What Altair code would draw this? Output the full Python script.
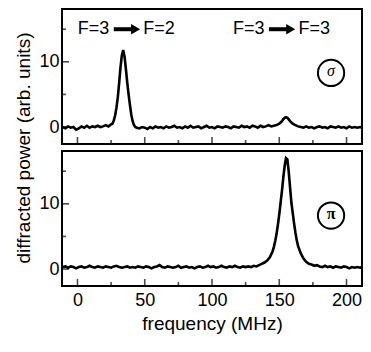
import altair as alt
import pandas as pd

# ---- data ----
top_freq = [-11, -9, -7, -5, -3, -1, 1, 3, 5, 7, 9, 11, 13, 15, 17, 19, 21, 23, 25,
            26, 27, 28, 29, 30, 31, 32, 33, 34, 35, 36, 37, 38, 39, 40, 41, 42, 43, 44,
            46, 48, 50, 52, 54, 56, 58, 60, 62, 64, 66, 68, 70, 72, 74, 76, 78, 80, 82, 84,
            86, 88, 90, 92, 94, 96, 98, 100, 102, 104, 106, 108, 110, 112, 114, 116, 118,
            120, 122, 124, 126, 128, 130, 132, 134, 136, 138, 140, 142, 144, 146,
            148, 150, 151, 152, 153, 154, 155, 156, 157, 158, 159, 160, 162, 164,
            166, 168, 170, 172, 174, 176, 178, 180, 182, 184, 186, 188, 190, 192, 194,
            196, 198, 200, 202, 204, 206, 208, 210, 211.5]
top_power = [0.0, -0.2, 0.1, -0.1, 0.0, -0.4, -0.2, 0.1, -0.1, 0.2, -0.1, 0.1, 0.0, 0.2, 0.0, 0.1, 0.3, 0.1, 0.4,
             0.5, 1.0, 1.8, 3.0, 4.6, 6.8, 9.2, 11.0, 11.8, 10.8, 8.9, 6.8, 5.0, 3.4, 1.9, 0.9, 0.3, 0.0, -0.1,
             -0.2, 0.0, -0.1, -0.3, 0.0, -0.2, 0.1, -0.1, 0.0, -0.2, 0.1, -0.1, 0.0, 0.2, -0.1, 0.0, -0.2, 0.1, -0.1, 0.2,
             -0.1, 0.0, 0.1, -0.2, 0.0, 0.2, -0.1, 0.0, -0.2, 0.1, 0.0, -0.1, 0.1, 0.0, -0.2, 0.1, 0.0,
             -0.1, 0.2, 0.0, 0.1, -0.1, 0.2, 0.1, -0.1, 0.2, 0.0, 0.1, 0.3, 0.1, 0.2,
             0.3, 0.5, 0.7, 0.9, 1.2, 1.4, 1.5, 1.4, 1.2, 0.9, 0.7, 0.5, 0.3, 0.1,
             0.0, -0.1, 0.1, -0.1, 0.0, -0.2, 0.0, 0.1, -0.1, 0.0, -0.2, 0.1, 0.0, -0.1, 0.1,
             -0.1, 0.0, -0.2, 0.1, -0.1, 0.0, -0.1, 0.0, -0.1]

bot_freq = [-11, -9, -7, -5, -3, -1, 1, 3, 5, 7, 9, 11, 13, 15, 17, 19, 21, 23, 25, 27, 29,
            31, 33, 35, 37, 39, 41, 43, 45, 47, 49, 51, 53, 55, 57, 59, 61, 63, 65, 67, 69,
            71, 73, 75, 77, 79, 81, 83, 85, 87, 89, 91, 93, 95, 97, 99, 101, 103, 105, 107,
            109, 111, 113, 115, 117, 119, 121, 123, 125, 127, 129,
            131, 133, 135, 137, 139, 141, 143, 145, 146, 147, 148, 149, 150, 151, 152, 153,
            154, 155, 156, 157, 158, 159, 160, 161, 162, 163, 164, 166, 168, 170, 172, 174,
            176, 178, 180, 182, 184, 186, 188, 190, 192, 194, 196, 198, 200, 202, 204, 206,
            208, 210, 211.5]
bot_power = [0.3, 0.4, 0.2, 0.4, 0.3, 0.1, 0.3, 0.4, 0.2, 0.3, 0.5, 0.3, 0.2, 0.4, 0.3, 0.2, 0.4, 0.3, 0.2, 0.4, 0.5,
             0.3, 0.2, 0.3, 0.4, 0.2, 0.3, 0.2, 0.4, 0.3, 0.2, 0.4, 0.3, 0.1, 0.3, 0.4, 0.6, 0.3, 0.2, 0.4, 0.3,
             0.2, 0.3, 0.5, 0.2, 0.3, 0.4, 0.2, 0.3, 0.1, 0.3, 0.4, 0.2, 0.3, 0.5, 0.3, 0.4, 0.2, 0.3, 0.5,
             0.3, 0.2, 0.4, 0.3, 0.5, 0.3, 0.2, 0.4, 0.3, 0.4, 0.3,
             0.5, 0.4, 0.6, 0.8, 1.0, 1.3, 1.8, 2.7, 3.4, 4.3, 5.4, 6.8, 8.4, 10.2, 12.0, 14.0,
             15.8, 17.0, 16.8, 15.0, 12.6, 10.2, 8.6, 7.0, 5.6, 4.4, 3.5, 2.4, 1.6, 1.1, 0.8, 0.7,
             0.5, 0.6, 0.4, 0.3, 0.5, 0.3, 0.4, 0.2, 0.4, 0.3, 0.2, 0.4, 0.3, 0.1, 0.3, 0.2,
             0.3, 0.2, 0.3]

x_major = [0, 50, 100, 150, 200]
x_minor = [25, 75, 125, 175]
y_major = [0, 10]
y_minor = [5, 15]

# transition labels: "F=3  ->  F=2" and "F=3  ->  F=3"
lbl_freq = [11.9, 60.6, 127.4, 176.0]
lbl_text = ["F=3", "F=2", "F=3", "F=3"]
lbl_power = 15.0
arrow_start = [27.0, 142.3]
arrow_end = [40.5, 155.8]
arrow_head = [43.2, 158.5]

sym_freq = [188.5, 188.5]
sym_power = [8.3, 8.2]
sym_text = ["\u03c3", "\u03c0"]

XDOM = [-11.5, 211.5]
YDOM = [-2.6, 18.1]
FONT = "Liberation Sans"
LFS = 18   # tick label font size
TFS = 19   # axis title font size
W, H = 300, 135
GAP = 7


def panel(freq, power, idx, bottom):
    xs = alt.Scale(domain=XDOM, nice=False, zero=False)
    ys = alt.Scale(domain=YDOM, nice=False, zero=False)
    if bottom:
        xaxis = alt.Axis(values=x_major, ticks=False, domain=False, grid=False, format="d",
                         labelFontSize=LFS, labelPadding=5, labelFont=FONT, labelColor="black",
                         title="frequency (MHz)", titleFontSize=TFS, titleFont=FONT,
                         titleFontWeight="normal", titleColor="black", titlePadding=5)
        yaxis = alt.Axis(values=y_major, ticks=False, domain=False, grid=False,
                         labelFontSize=LFS, labelPadding=3, labelFont=FONT, labelColor="black",
                         title=None)
    else:
        xaxis = None
        yaxis = alt.Axis(values=y_major, ticks=False, domain=False, grid=False,
                         labelFontSize=LFS, labelPadding=3, labelFont=FONT, labelColor="black",
                         title="diffracted power (arb. units)", titleFontSize=TFS, titleFont=FONT,
                         titleFontWeight="normal", titleColor="black", titlePadding=5,
                         titleY=(2 * H + GAP) / 2)

    df = pd.DataFrame({"f": freq, "p": power})
    line = alt.Chart(df).mark_line(color="black", strokeWidth=2.6, clip=True).encode(
        x=alt.X("f:Q", scale=xs, axis=xaxis),
        y=alt.Y("p:Q", scale=ys, axis=yaxis),
    )

    xt_major = alt.Chart(pd.DataFrame({"v": x_major})).mark_tick(
        orient="vertical", size=7, thickness=1.6, yOffset=-3.5, color="black").encode(
        x=alt.X("v:Q", scale=xs), y=alt.datum(YDOM[0]))
    xt_minor = alt.Chart(pd.DataFrame({"v": x_minor})).mark_tick(
        orient="vertical", size=4, thickness=1.6, yOffset=-2, color="black").encode(
        x=alt.X("v:Q", scale=xs), y=alt.datum(YDOM[0]))
    yt_major = alt.Chart(pd.DataFrame({"v": y_major})).mark_tick(
        orient="horizontal", size=7, thickness=1.6, xOffset=3.5, color="black").encode(
        y=alt.Y("v:Q", scale=ys), x=alt.datum(XDOM[0]))
    yt_minor = alt.Chart(pd.DataFrame({"v": y_minor})).mark_tick(
        orient="horizontal", size=4, thickness=1.6, xOffset=2, color="black").encode(
        y=alt.Y("v:Q", scale=ys), x=alt.datum(XDOM[0]))

    sdf = pd.DataFrame({"f": [sym_freq[idx]], "p": [sym_power[idx]], "t": [sym_text[idx]]})
    circ = alt.Chart(sdf).mark_point(shape="circle", size=690, filled=False, stroke="black",
                                     strokeWidth=2, opacity=1).encode(
        x=alt.X("f:Q", scale=xs), y=alt.Y("p:Q", scale=ys))
    sym = alt.Chart(sdf).mark_text(font="Liberation Serif", fontSize=16, color="black",
                                   fontStyle="italic" if idx == 0 else "normal",
                                   fontWeight="normal" if idx == 0 else "bold",
                                   baseline="middle", dy=-2).encode(
        x=alt.X("f:Q", scale=xs), y=alt.Y("p:Q", scale=ys), text="t:N")

    layers = [line, xt_major, xt_minor, yt_major, yt_minor, circ, sym]
    if idx == 0:
        ldf = pd.DataFrame({"f": lbl_freq, "p": [lbl_power] * len(lbl_freq), "t": lbl_text})
        lbl = alt.Chart(ldf).mark_text(font=FONT, fontSize=18, color="black",
                                       baseline="middle").encode(
            x=alt.X("f:Q", scale=xs), y=alt.Y("p:Q", scale=ys), text="t:N")
        adf = pd.DataFrame({"a": arrow_start, "b": arrow_end, "h": arrow_head,
                            "p": [lbl_power] * len(arrow_start)})
        shaft = alt.Chart(adf).mark_rule(color="black", strokeWidth=4).encode(
            x=alt.X("a:Q", scale=xs), x2="b:Q", y=alt.Y("p:Q", scale=ys))
        head = alt.Chart(adf).mark_point(shape="triangle-right", filled=True, color="black",
                                         size=110, opacity=1).encode(
            x=alt.X("h:Q", scale=xs), y=alt.Y("p:Q", scale=ys))
        layers += [lbl, shaft, head]
    return alt.layer(*layers).properties(width=W, height=H)


chart = alt.vconcat(
    panel(top_freq, top_power, 0, False),
    panel(bot_freq, bot_power, 1, True),
    spacing=GAP,
    bounds="flush",
).properties(
    padding={"left": 5, "top": 0, "right": 0, "bottom": 0},
).configure_view(stroke="black", strokeWidth=2)

chart.save("out.html", embed_options={"renderer": "svg", "actions": False})
